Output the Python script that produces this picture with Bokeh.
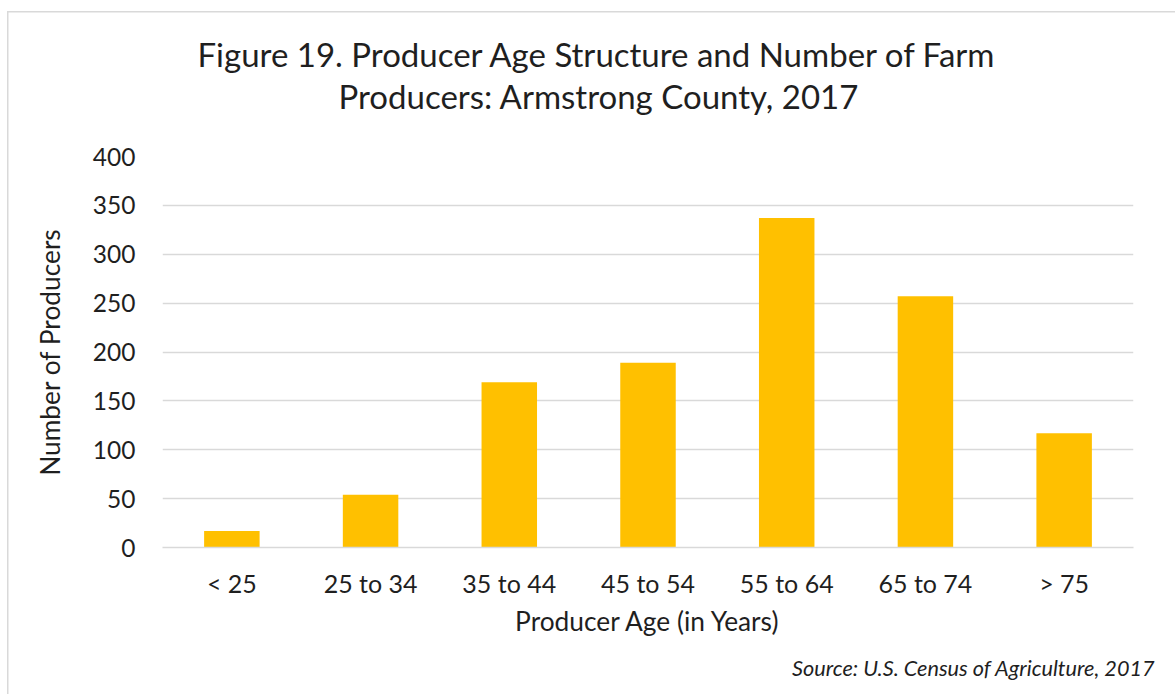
from bokeh.plotting import figure
from bokeh.models import Title, FixedTicker, Range1d
from bokeh.embed import file_html
from bokeh.resources import INLINE

# ---- data ----
age_groups = ["< 25", "25 to 34", "35 to 44", "45 to 54", "55 to 64", "65 to 74", "> 75"]
producers = [17, 54, 169, 189, 337, 257, 117]
y_ticks = [0, 50, 100, 150, 200, 250, 300, 350, 400]

title_line1 = "Figure 19. Producer Age Structure and Number of Farm"
title_line2 = "Producers: Armstrong County, 2017"
x_title = "Producer Age (in Years)"
y_title = "Number of Producers"
source_text = "Source: U.S. Census of Agriculture, 2017"

FONT = "Lato"
TXT = "#1f1f1f"
GRID = "#d9d9d9"

p = figure(x_range=age_groups, y_range=Range1d(0, 400),
           width=1175, height=694,
           min_border_left=162, min_border_right=42,
           min_border_top=156, min_border_bottom=146,
           output_backend="svg", toolbar_location=None,
           background_fill_color="white", border_fill_color=None)
p.outline_line_color = None
p.styles = {"box-shadow": "inset 7px 11px 0 0 white, inset 8.5px 12.5px 0 0 #d9d9d9",
            "background-color": "white"}

p.vbar(x=age_groups, top=producers, width=0.4, fill_color="#FFC000", line_color=None)

# grid
p.xgrid.grid_line_color = None
p.ygrid.grid_line_color = GRID
p.ygrid.grid_line_width = 1.5
p.yaxis.ticker = FixedTicker(ticks=y_ticks)

# y axis
p.yaxis.axis_line_color = None
p.yaxis.major_tick_line_color = None
p.yaxis.minor_tick_line_color = None
p.yaxis.major_tick_out = 0
p.yaxis.major_tick_in = 0
p.yaxis.major_label_standoff = 27
p.yaxis.major_label_text_font = FONT
p.yaxis.major_label_text_font_size = "24.5px"
p.yaxis.major_label_text_color = TXT
p.yaxis.axis_label = y_title
p.yaxis.axis_label_text_font = FONT
p.yaxis.axis_label_text_font_size = "26.3px"
p.yaxis.axis_label_text_font_style = "normal"
p.yaxis.axis_label_text_color = TXT
p.yaxis.axis_label_standoff = 24

# x axis
p.xaxis.axis_line_color = GRID
p.xaxis.axis_line_width = 1.5
p.xaxis.major_tick_line_color = None
p.xaxis.minor_tick_line_color = None
p.xaxis.major_tick_out = 0
p.xaxis.major_tick_in = 0
p.xaxis.major_label_standoff = 20
p.xaxis.major_label_text_font = FONT
p.xaxis.major_label_text_font_size = "25px"
p.xaxis.major_label_text_color = TXT
p.xaxis.axis_label = x_title
p.xaxis.axis_label_text_font = FONT
p.xaxis.axis_label_text_font_size = "26.3px"
p.xaxis.axis_label_text_font_style = "normal"
p.xaxis.axis_label_text_color = TXT
p.xaxis.axis_label_standoff = 4

# titles, stacked outward from the plot area: spacer, line 2, line 1
p.add_layout(Title(text=" ", standoff=37.5, text_font=FONT, text_font_size="1px",
                   text_color="white"), "above")
p.add_layout(Title(text=title_line2, align="left", offset=176, standoff=0,
                   text_font=FONT, text_font_size="33px", text_font_style="normal",
                   text_color=TXT), "above")
p.add_layout(Title(text=title_line1, align="left", offset=35, standoff=0,
                   text_font=FONT, text_font_size="33px", text_font_style="normal",
                   text_color=TXT), "above")

# source note
p.add_layout(Title(text=source_text, align="right", offset=-22, standoff=27,
                   text_font=FONT, text_font_size="21.7px", text_font_style="italic",
                   text_color=TXT), "below")

open("out.html", "w").write(file_html(p, INLINE))
